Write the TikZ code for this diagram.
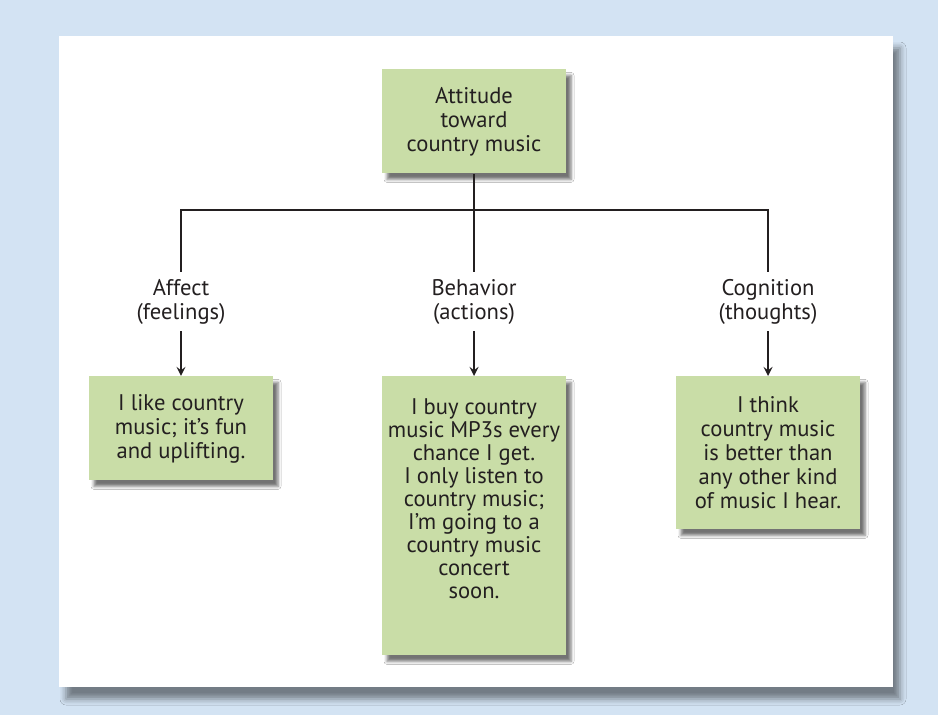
\documentclass[tikz,border=0pt]{standalone}
\usepackage{fontspec}
\setmainfont{PT Sans}
\usetikzlibrary{shadows.blur}
\definecolor{bgblue}{RGB}{211,227,243}
\definecolor{boxgreen}{RGB}{201,221,167}
\definecolor{ink}{RGB}{35,31,32}
\tikzstyle{attbox} = [rectangle, align=center, minimum width=92pt, minimum height=52pt, anchor=north, inner sep=0pt, fill=boxgreen, text=ink, blur shadow={shadow xshift=2.5pt, shadow yshift=-3pt, shadow blur radius=1.5pt, shadow opacity=55}]
\tikzstyle{comp} = [align=center, text=ink, minimum height=29.5pt, inner sep=0pt]
\tikzstyle{line} = [line width=1pt, draw=ink]
\tikzstyle{arrow} = [line width=1pt, draw=ink, ->, >=stealth]
\begin{document}
\begin{tikzpicture}[x=0.5pt, y=-0.5pt, font=\fontsize{11.3}{12}\selectfont]
      \fill[bgblue] (0,0) rectangle (938,715);
      \fill[white, blur shadow={shadow xshift=3.5pt, shadow yshift=-6pt, shadow blur radius=3pt, shadow opacity=45}] (59,36) rectangle (893,687);
      \useasboundingbox (0,0) rectangle (938,715);
      \node (att)[attbox] at (474,69) {Attitude\\toward\\country music};
      \node (aff)[comp] at (181,301.5) {Affect\\(feelings)};
      \node (beh)[comp] at (474,301.5) {Behavior\\(actions)};
      \node (cog)[comp] at (768,301.5) {Cognition\\(thoughts)};
      \node (like)[attbox] at (181,376) {I like country\\music; it's fun\\and uplifting.};
      \node (buy)[attbox, minimum height=139.5pt, font=\fontsize{11.3}{11.5}\selectfont] at (474,376) {I buy country\\music MP3s every\\chance I get.\\I only listen to\\country music;\\I'm going to a\\country music\\concert\\soon.\\[6pt]\mbox{}};
      \node (think)[attbox, minimum height=76.5pt] at (768,376) {I think\\country music\\is better than\\any other kind\\of music I hear.};
      \draw[line] (aff.north) |- (cog.north |- 0,210) -- (cog.north);
      \draw[line] (att.south) -- (beh.north);
      \draw[arrow] (aff.south) -- (like.north);
      \draw[arrow] (beh.south) -- (buy.north);
      \draw[arrow] (cog.south) -- (think.north);
    \end{tikzpicture}
\end{document}
